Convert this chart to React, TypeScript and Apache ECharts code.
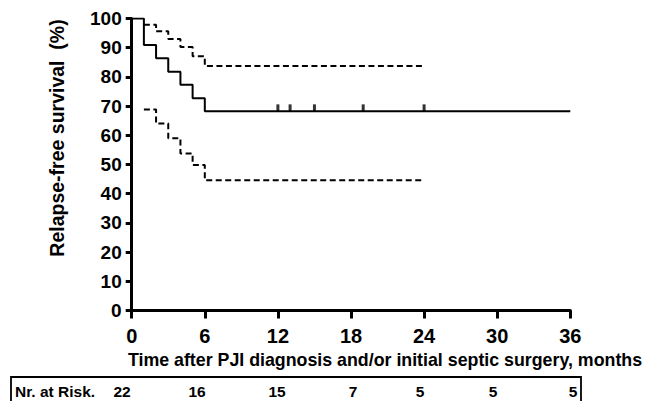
import React, { useEffect, useRef } from "react";
import * as echarts from "echarts";

// Kaplan-Meier estimate (months, % relapse-free)
const kmTimes = [0, 1, 2, 3, 4, 5, 6, 36];
const kmSurvival = [100, 90.9, 86.4, 81.8, 77.3, 72.7, 68.2, 68.2];

// 95% confidence band
const ciTimes = [1, 2, 3, 4, 5, 6, 24];
const ciUpper = [97.9, 95.6, 93.0, 90.2, 87.1, 83.7, 83.7];
const ciLower = [68.8, 64.0, 59.0, 53.8, 49.8, 44.6, 44.6];

// censored observations
const censorTimes = [12, 13, 15, 19, 24];
const censorValue = 68.2;

// number at risk table
const riskTimes = [0, 6, 12, 18, 24, 30, 36];
const riskCounts = [22, 16, 15, 7, 5, 5, 5];
const riskLabelX = [122, 197, 277, 353, 420, 493, 573];

const FONT = '"Liberation Sans", Arial, Helvetica, sans-serif';

export default function App() {
  const ref = useRef<HTMLDivElement>(null);
  useEffect(() => {
    if (!ref.current) return;
    const chart = echarts.init(ref.current, null, { renderer: "svg" });
    const km = kmTimes.map((t, i) => [t, kmSurvival[i]]);
    const up = ciTimes.map((t, i) => [t, ciUpper[i]]);
    const lo = ciTimes.map((t, i) => [t, ciLower[i]]);
    const cens = censorTimes.map((t) => [t, censorValue]);

    const riskTexts = riskCounts.map((c, i) => ({
      type: "text",
      x: riskLabelX[i],
      y: 391.5,
      style: {
        text: String(c),
        font: `bold 15.5px ${FONT}`,
        fill: "#000",
        textAlign: "center",
        textVerticalAlign: "middle",
      },
    }));

    chart.setOption({
      animation: false,
      backgroundColor: "#fff",
      grid: {
        left: 131.7,
        right: 75.7,
        top: 18.5,
        bottom: 90.5,
        containLabel: false,
        outerBoundsMode: "none",
      },
      xAxis: {
        type: "value",
        min: 0,
        max: 36,
        interval: 6,
        axisLine: { show: true, onZero: false, lineStyle: { color: "#000", width: 3 } },
        axisTick: { show: true, length: 8, lineStyle: { color: "#000", width: 3 } },
        axisLabel: {
          margin: 15,
          color: "#000",
          fontSize: 20,
          fontWeight: "bold",
          fontFamily: FONT,
        },
        splitLine: { show: false },
      },
      yAxis: {
        type: "value",
        min: 0,
        max: 100,
        interval: 10,
        axisLine: { show: true, lineStyle: { color: "#000", width: 3 } },
        axisTick: { show: true, length: 6, lineStyle: { color: "#000", width: 3 } },
        axisLabel: {
          margin: 10,
          color: "#000",
          fontSize: 19,
          fontWeight: "bold",
          fontFamily: FONT,
        },
        splitLine: { show: false },
      },
      series: [
        {
          type: "line",
          data: km,
          step: "end",
          symbol: "none",
          lineStyle: { color: "#000", width: 2 },
          z: 3,
        },
        {
          type: "line",
          data: up,
          step: "end",
          symbol: "none",
          lineStyle: { color: "#000", width: 2, type: [6, 3.5] },
        },
        {
          type: "line",
          data: lo,
          step: "end",
          symbol: "none",
          lineStyle: { color: "#000", width: 2, type: [6, 3.5] },
        },
        {
          type: "scatter",
          data: cens,
          symbol: "rect",
          symbolSize: [3, 7],
          symbolOffset: [0, -3.5],
          itemStyle: { color: "#000" },
          z: 4,
        },
      ],
      graphic: [
        {
          type: "text",
          x: 57,
          y: 138,
          rotation: Math.PI / 2,
          style: {
            text: "Relapse-free survival  (%)",
            font: `bold 19.5px ${FONT}`,
            fill: "#000",
            textAlign: "center",
            textVerticalAlign: "middle",
          },
        },
        {
          type: "text",
          x: 385,
          y: 360,
          style: {
            text: "Time after PJI diagnosis and/or initial septic surgery, months",
            font: `bold 17.8px ${FONT}`,
            fill: "#000",
            textAlign: "center",
            textVerticalAlign: "middle",
          },
        },
        {
          type: "rect",
          shape: { x: 11, y: 377, width: 570, height: 30 },
          style: { fill: "none", stroke: "#000", lineWidth: 1.8 },
        },
        {
          type: "text",
          x: 15,
          y: 391.5,
          style: {
            text: "Nr. at Risk.",
            font: `bold 15.5px ${FONT}`,
            fill: "#000",
            textAlign: "left",
            textVerticalAlign: "middle",
          },
        },
        ...riskTexts,
      ],
    });
    return () => chart.dispose();
  }, []);
  return <div ref={ref} style={{ width: 646, height: 401, position: "absolute", left: 0, top: 0 }} />;
}
